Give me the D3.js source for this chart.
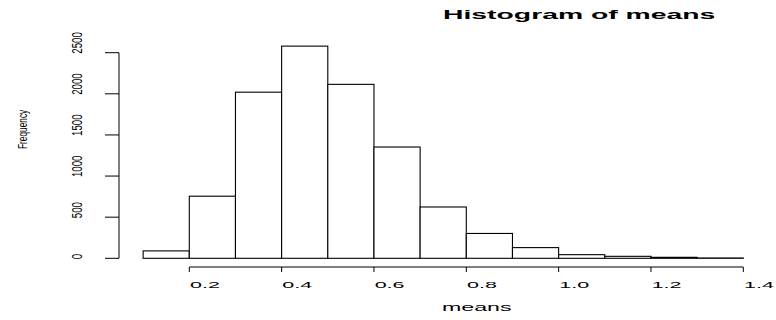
<!DOCTYPE html>
<html>
<head>
<meta charset="utf-8">
<script src="https://cdn.jsdelivr.net/npm/d3@7"></script>
<style>
  html, body { margin: 0; padding: 0; background: #fff; }
  text { font-family: "Liberation Sans", Arial, sans-serif; fill: #000; }
</style>
</head>
<body>
<svg id="chart" width="776" height="320"></svg>
<script>
// Histogram bin edges (left edges) and counts
const binStarts = [0.1, 0.2, 0.3, 0.4, 0.5, 0.6, 0.7, 0.8, 0.9, 1.0, 1.1, 1.2, 1.3];
const binWidth = 0.1;
const counts = [90, 755, 2020, 2580, 2115, 1353, 624, 302, 130, 44, 24, 12, 4];
const xTicks = [0.2, 0.4, 0.6, 0.8, 1.0, 1.2, 1.4];
const xTickLabels = ["0.2", "0.4", "0.6", "0.8", "1.0", "1.2", "1.4"];
const yTicks = [0, 500, 1000, 1500, 2000, 2500];
const title = "Histogram of means";
const xTitle = "means";
const yTitle = "Frequency";

const svg = d3.select("#chart");

const x = d3.scaleLinear().domain([0.2, 1.4]).range([189.3, 743.3]);
const y = d3.scaleLinear().domain([0, 2500]).range([258.3, 52.7]);

// Bars
svg.append("g")
  .selectAll("rect")
  .data(binStarts.map((s, i) => ({ s, c: counts[i] })))
  .join("rect")
  .attr("x", d => x(d.s))
  .attr("width", d => x(d.s + binWidth) - x(d.s))
  .attr("y", d => y(d.c))
  .attr("height", d => y(0) - y(d.c))
  .attr("fill", "#fff")
  .attr("stroke", "#000")
  .attr("stroke-width", 1.1);

// X axis
const xAxisY = 267;
const gx = svg.append("g");
gx.append("line")
  .attr("x1", x(xTicks[0])).attr("x2", x(xTicks[xTicks.length - 1]))
  .attr("y1", xAxisY).attr("y2", xAxisY)
  .attr("stroke", "#000").attr("stroke-width", 1);
gx.selectAll("line.tick").data(xTicks).join("line")
  .attr("class", "tick")
  .attr("x1", d => x(d)).attr("x2", d => x(d))
  .attr("y1", xAxisY).attr("y2", xAxisY + 5)
  .attr("stroke", "#000").attr("stroke-width", 1);
gx.selectAll("text").data(xTicks).join("text")
  .attr("transform", d => `translate(${x(d) + 0.7},288.3) scale(2.3,1)`)
  .attr("font-size", 9.36)
  .attr("text-anchor", "start")
  .text((d, i) => xTickLabels[i]);

// Y axis
const yAxisX = 119;
const gy = svg.append("g");
gy.append("line")
  .attr("x1", yAxisX).attr("x2", yAxisX)
  .attr("y1", y(yTicks[0])).attr("y2", y(yTicks[yTicks.length - 1]))
  .attr("stroke", "#000").attr("stroke-width", 1);
gy.selectAll("line.tick").data(yTicks).join("line")
  .attr("class", "tick")
  .attr("x1", yAxisX - 14).attr("x2", yAxisX)
  .attr("y1", d => y(d)).attr("y2", d => y(d))
  .attr("stroke", "#000").attr("stroke-width", 1);
gy.selectAll("text").data(yTicks).join("text")
  .attr("transform", d => `translate(81.7,${y(d) + 1}) rotate(-90) scale(1,1.44)`)
  .attr("font-size", 9.7)
  .attr("text-anchor", "start")
  .text(d => String(d));

// Titles
svg.append("text")
  .attr("transform", "translate(443,19) scale(2.25,1)")
  .attr("font-size", 12.6)
  .attr("font-weight", "bold")
  .attr("text-anchor", "start")
  .text(title);

svg.append("text")
  .attr("transform", "translate(442,311) scale(2.0,1)")
  .attr("font-size", 11.6)
  .attr("text-anchor", "start")
  .text(xTitle);

svg.append("text")
  .attr("transform", "translate(27,149) rotate(-90) scale(1,1.5)")
  .attr("font-size", 8.3)
  .attr("text-anchor", "start")
  .text(yTitle);
</script>
</body>
</html>
